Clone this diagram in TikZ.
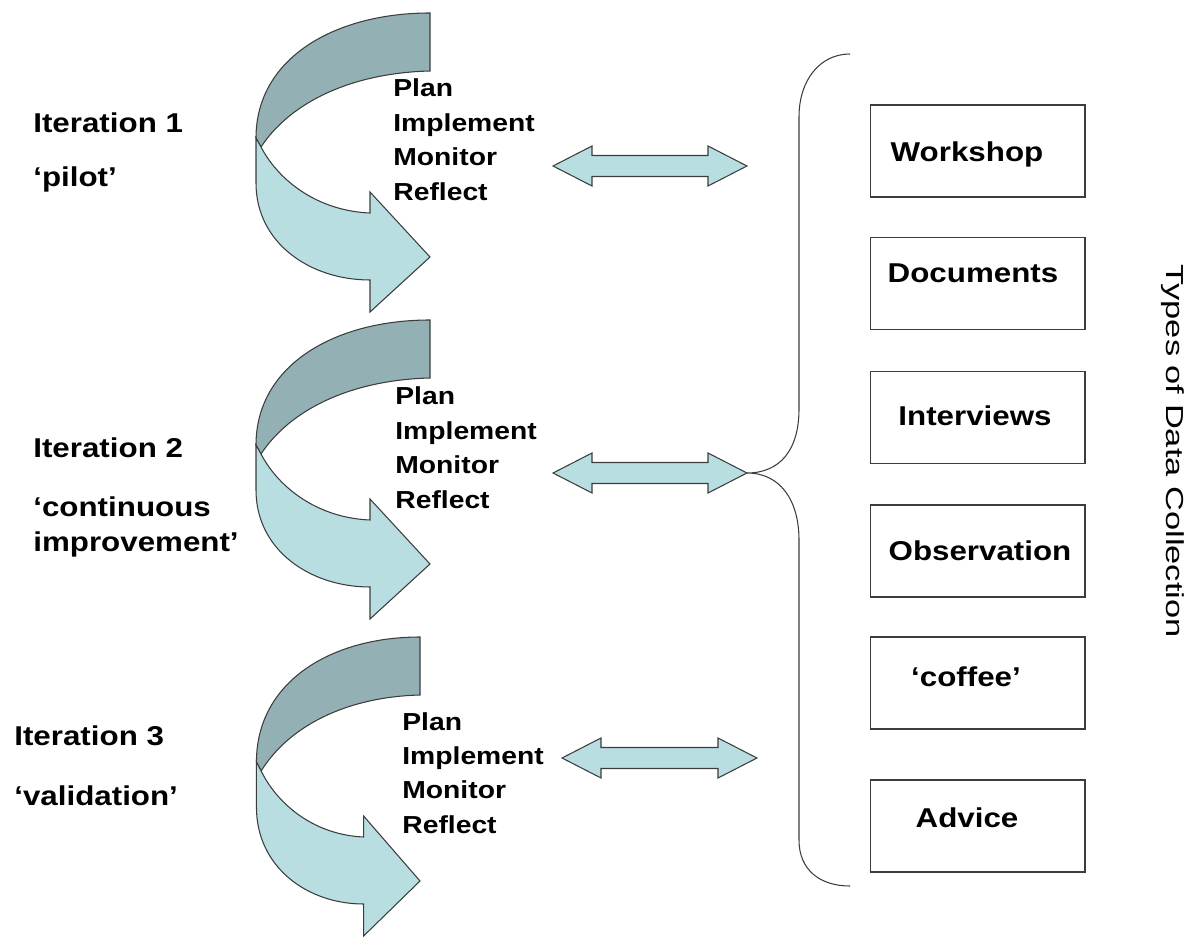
\documentclass[tikz,border=0pt]{standalone}
\usepackage{fontspec}
\setmainfont{Liberation Sans}[FakeStretch=1.15]
\newfontfamily\titlefont{Liberation Sans}[FakeStretch=1.4]
\usetikzlibrary{positioning}

\definecolor{bandDark}{RGB}{147,176,180}
\definecolor{bandLight}{RGB}{184,222,226}
\definecolor{edge}{RGB}{60,60,60}

\tikzset{
	shapeline/.style={draw=edge, line width=0.6pt},
	itertext/.style={anchor=base west, inner sep=0pt, font=\bfseries\fontsize{15.5}{18}\selectfont},
	steptext/.style={anchor=base west, inner sep=0pt, font=\bfseries\fontsize{14}{17}\selectfont},
	box/.style={draw=edge, line width=0.6pt, minimum width=4.3cm, minimum height=1.84cm},
	boxtext/.style={anchor=base, inner sep=0pt, font=\bfseries\fontsize{15.5}{18}\selectfont}
}

% twisted band arrow, top right corner at (#1,#2), width factor #3
\newcommand{\twistarrow}[3]{%
	\begin{scope}[shift={(#1,#2)},xscale=#3]
		\filldraw[shapeline, fill=bandDark] (0,0) .. controls (-95,0) and (-174,45) .. (-174,125)
			-- (-169,134) .. controls (-140,90) and (-80,60) .. (0,58) -- cycle;
		\filldraw[shapeline, fill=bandLight] (-174,125) -- (-174,170) .. controls (-174,230) and (-120,267) .. (-60,267)
			-- (-60,299) -- (0,244) -- (-60,179) -- (-60,200) .. controls (-110,198) and (-150,170) .. (-169,134) -- cycle;
	\end{scope}}

% double headed block arrow: left tip x, right tip x, y
\newcommand{\dblarrow}[3]{%
	\filldraw[shapeline, fill=bandLight] (#1,#3) -- (#1+39,#3-20) -- (#1+39,#3-10.5) -- (#2-39,#3-10.5)
		-- (#2-39,#3-20) -- (#2,#3) -- (#2-39,#3+20) -- (#2-39,#3+10.5) -- (#1+39,#3+10.5) -- (#1+39,#3+20) -- cycle;}

\begin{document}
\begin{tikzpicture}[x=0.02cm,y=-0.02cm]
	\useasboundingbox (0,0) rectangle (1197,942);

	% iterations
	\node[itertext] (it1) at (33,133) {Iteration 1};
	\node[itertext] (it1b) at (33,187) {‘pilot’};
	\node[itertext] (it2) at (33,458) {Iteration 2};
	\node[itertext] (it2b) at (33,517) {‘continuous};
	\node[itertext] (it2c) at (33,551) {improvement’};
	\node[itertext] (it3) at (14,745) {Iteration 3};
	\node[itertext] (it3b) at (14,805) {‘validation’};

	\twistarrow{430}{13}{1}
	\twistarrow{430}{320}{1}
	\twistarrow{420}{637}{0.94}

	% plan steps
	\foreach \bx/\by [count=\k] in {393/97, 395/405, 402/730}
		\foreach \w [count=\i] in {Plan,Implement,Monitor,Reflect}
			\node[steptext] (plan\k-\i) at (\bx,\by+34.4*\i-34.4) {\w};

	\dblarrow{553}{747}{166}
	\dblarrow{553}{747}{473}
	\dblarrow{562}{757}{758}

	% brace
	\coordinate (bracetip) at (747,473);
	\draw[draw=edge, line width=0.6pt] (850,54) .. controls (820,54) and (799,80) .. (799,117) -- (799,409)
		.. controls (799,450) and (780,473) .. (bracetip)
		.. controls (780,473) and (799,500) .. (799,540) -- (799,840)
		.. controls (799,870) and (820,886) .. (850,886);

	% data collection boxes
	\foreach \name/\cy/\tx/\ty/\txt in {work/151/967/162/Workshop, docs/283.5/973/283/Documents,
		inter/417.5/975/426/Interviews, obs/551/980/560/Observation,
		coffee/683/966/686/‘coffee’, advice/826/967/827/Advice} {
		\node[box] (\name) at (977.5,\cy) {};
		\node[boxtext] (\name-t) at (\tx,\ty) {\txt};
	}

	\node[rotate=-90, anchor=base, inner sep=0pt, font=\titlefont\fontsize{14}{16}\selectfont] (types) at (1166,451) {Types of Data Collection};
\end{tikzpicture}
\end{document}
